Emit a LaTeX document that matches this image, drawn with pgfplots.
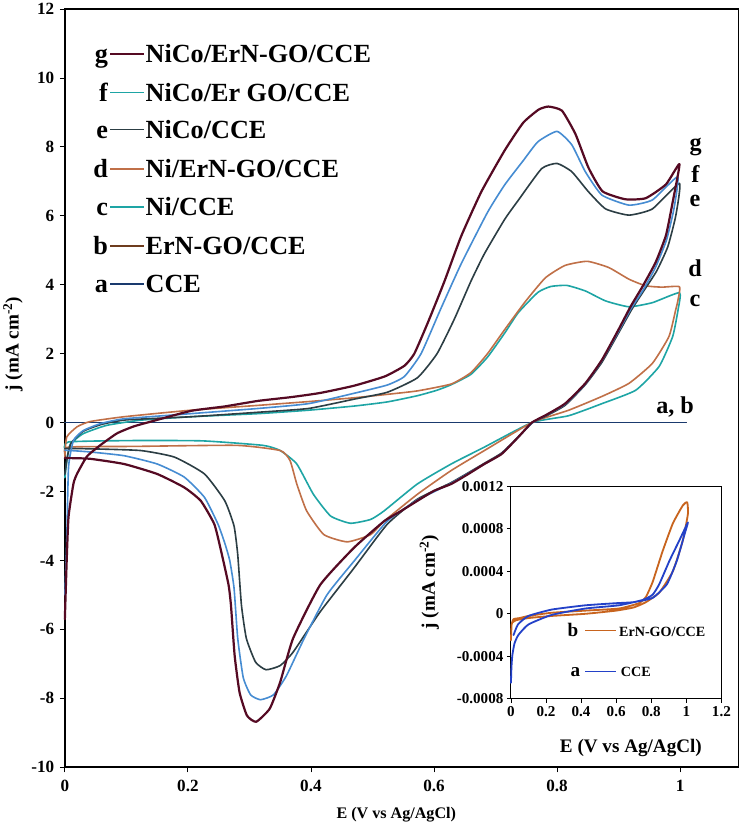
\documentclass[border=0pt]{standalone}
\usepackage{fontspec}
\setmainfont{Liberation Serif}
\usepackage{pgfplots}
\pgfplotsset{compat=1.18}

\definecolor{cg}{RGB}{85,10,35}
\definecolor{cf}{RGB}{70,140,210}
\definecolor{ce}{RGB}{44,62,68}
\definecolor{cd}{RGB}{192,112,72}
\definecolor{cc}{RGB}{30,165,165}
\definecolor{ca}{RGB}{26,58,110}
\definecolor{cb}{RGB}{110,60,30}
\definecolor{ib}{RGB}{200,100,30}
\definecolor{ia}{RGB}{35,65,200}

\begin{document}
\begin{tikzpicture}
\begin{axis}[
  name=main,
  scale only axis, width=669pt, height=753pt,
  xmin=0, xmax=1.095, ymin=-10, ymax=12,
  xtick={0,0.2,0.4,0.6,0.8,1}, ytick={-10,-8,...,12},
  xticklabels={\textbf{0},\textbf{0.2},\textbf{0.4},\textbf{0.6},\textbf{0.8},\textbf{1}},
  yticklabels={\textbf{-10},\textbf{-8},\textbf{-6},\textbf{-4},\textbf{-2},\textbf{0},\textbf{2},\textbf{4},\textbf{6},\textbf{8},\textbf{10},\textbf{12}},
  xtick pos=lower, ytick pos=left,
  tick align=outside, major tick length=5pt,
  tick style={line width=0.8pt, black},
  axis line style={line width=1.6pt},
  clip=false,
  tick label style={font=\fontsize{17}{19}\selectfont\bfseries},
  xticklabel style={yshift=-4pt},
  yticklabel style={xshift=-2pt},
  xlabel={E (V vs Ag/AgCl)},
  ylabel={j (mA cm\textsuperscript{-2})},
  xlabel style={font=\fontsize{16}{19}\selectfont\bfseries, at={(axis description cs:0.492,-0.062)}, anchor=center},
  ylabel style={font=\fontsize{19}{22}\selectfont\bfseries, at={(axis description cs:-0.077,0.558)}, anchor=center},
  every axis plot/.append style={line join=round, line cap=round},
]
% a, b (flat at zero)
\addplot[cb, line width=1.4pt] coordinates {(0,0) (1.01,0)};
\addplot[ca, line width=1.4pt] coordinates {(0,0) (1.01,0)};
% c  Ni/CCE
\addplot[cc, line width=1.6pt, smooth, tension=0.3] coordinates {
(0,-1.6) (0.004,-1.0) (0.009,-0.62) (0.03,-0.32) (0.068,-0.08) (0.123,0.07) (0.205,0.17)
(0.314,0.26) (0.396,0.36) (0.47,0.48) (0.524,0.6) (0.573,0.78) (0.605,0.94) (0.628,1.1)
(0.66,1.4) (0.687,1.9) (0.715,2.6) (0.737,3.19) (0.769,3.78) (0.79,3.95) (0.816,3.98)
(0.846,3.82) (0.879,3.53) (0.917,3.36) (0.955,3.48) (0.999,3.77)
(0.997,3.3) (0.988,2.5) (0.966,1.63) (0.928,0.94) (0.873,0.55) (0.819,0.2) (0.759,0.0)
(0.682,-0.71) (0.628,-1.2) (0.573,-1.78) (0.519,-2.56) (0.497,-2.81) (0.464,-2.92)
(0.432,-2.71) (0.404,-2.08) (0.377,-1.2) (0.35,-0.81) (0.322,-0.66) (0.224,-0.53)
(0.115,-0.52) (0.006,-0.56) (0,-0.8)};
% d  Ni/ErN-GO/CCE
\addplot[cd, line width=1.6pt, smooth, tension=0.3] coordinates {
(0,-1.0) (0.003,-0.42) (0.02,-0.12) (0.041,0.03) (0.096,0.17) (0.205,0.36) (0.314,0.5)
(0.396,0.61) (0.47,0.72) (0.524,0.82) (0.573,0.92) (0.628,1.12) (0.66,1.45) (0.687,2.0)
(0.715,2.7) (0.748,3.5) (0.781,4.2) (0.813,4.56) (0.849,4.68) (0.884,4.5) (0.917,4.16)
(0.944,3.97) (0.97,3.93) (0.999,3.94)
(0.996,3.5) (0.993,3.28) (0.982,2.5) (0.955,1.72) (0.917,1.14) (0.873,0.76) (0.819,0.36)
(0.759,0.0) (0.682,-0.81) (0.628,-1.39) (0.573,-2.08) (0.519,-2.86) (0.497,-3.25)
(0.459,-3.46) (0.421,-3.25) (0.393,-2.56) (0.377,-1.78) (0.366,-1.1) (0.35,-0.81)
(0.279,-0.66) (0.115,-0.69) (0.006,-0.71) (0,-0.9)};
% e  NiCo/CCE
\addplot[ce, line width=1.6pt, smooth, tension=0.3] coordinates {
(0,-1.5) (0.004,-1.0) (0.01,-0.6) (0.03,-0.25) (0.06,-0.05) (0.1,0.08) (0.205,0.17)
(0.314,0.3) (0.396,0.41) (0.47,0.68) (0.524,0.88) (0.573,1.3) (0.605,2.0) (0.633,3.0)
(0.66,4.1) (0.682,4.9) (0.715,5.9) (0.737,6.45) (0.775,7.37) (0.8,7.52) (0.824,7.28)
(0.851,6.7) (0.879,6.2) (0.917,6.02) (0.955,6.2) (0.999,6.94)
(0.993,6.0) (0.98,5.1) (0.962,4.4) (0.942,3.85) (0.922,3.3) (0.9,2.6) (0.873,1.75)
(0.846,1.1) (0.813,0.5) (0.781,0.18) (0.76,0) (0.737,-0.42) (0.71,-0.88) (0.682,-1.18)
(0.628,-1.74) (0.573,-2.22) (0.524,-2.95) (0.47,-4.22) (0.415,-5.49) (0.371,-6.66)
(0.35,-7.05) (0.327,-7.17) (0.31,-6.95) (0.295,-6.26) (0.287,-5.29) (0.281,-3.83)
(0.275,-3.0) (0.26,-2.27) (0.227,-1.49) (0.178,-1.0) (0.123,-0.81) (0.041,-0.76)
(0.005,-0.75) (0,-0.75)};
% f  NiCo/ErGO/CCE
\addplot[cf, line width=1.6pt, smooth, tension=0.3] coordinates {
(0,-5.0) (0.003,-3.5) (0.006,-1.29) (0.014,-0.52) (0.03,-0.23) (0.058,-0.03) (0.096,0.11)
(0.205,0.26) (0.314,0.41) (0.396,0.55) (0.47,0.85) (0.524,1.09) (0.552,1.34) (0.579,2.0)
(0.611,3.3) (0.644,4.6) (0.687,6.1) (0.715,6.9) (0.745,7.6) (0.769,8.15) (0.8,8.45)
(0.824,8.06) (0.846,7.28) (0.873,6.6) (0.917,6.31) (0.955,6.46) (0.996,7.13)
(0.99,6.2) (0.978,5.3) (0.96,4.5) (0.94,3.85) (0.92,3.3) (0.9,2.65) (0.873,1.8)
(0.846,1.12) (0.813,0.53) (0.781,0.2) (0.76,0) (0.737,-0.42) (0.71,-0.9) (0.682,-1.2)
(0.628,-1.76) (0.573,-2.25) (0.524,-2.86) (0.47,-4.02) (0.426,-5.0) (0.388,-6.3)
(0.36,-7.35) (0.339,-7.9) (0.318,-8.04) (0.302,-7.9) (0.29,-7.4) (0.281,-6.26)
(0.275,-4.8) (0.268,-4.0) (0.26,-3.5) (0.249,-2.95) (0.227,-2.17) (0.194,-1.58)
(0.15,-1.2) (0.096,-0.96) (0.04,-0.85) (0.009,-0.81) (0,-0.8)};
% g  NiCo/ErN-GO/CCE
\addplot[cg, line width=2.2pt, smooth, tension=0.3] coordinates {
(0,-5.7) (0.003,-4.0) (0.006,-2.73) (0.014,-1.77) (0.02,-1.48) (0.036,-0.98) (0.058,-0.65)
(0.085,-0.31) (0.112,-0.11) (0.14,0.03) (0.205,0.34) (0.26,0.47) (0.314,0.63) (0.368,0.74)
(0.415,0.86) (0.47,1.07) (0.52,1.34) (0.552,1.65) (0.568,2.0) (0.59,2.9) (0.617,4.1)
(0.644,5.4) (0.677,6.7) (0.715,7.9) (0.745,8.7) (0.77,9.08) (0.786,9.17) (0.808,9.05)
(0.83,8.37) (0.851,7.4) (0.874,6.71) (0.911,6.48) (0.944,6.51) (0.977,6.91) (0.999,7.5)
(0.988,6.4) (0.977,5.43) (0.96,4.64) (0.939,3.95) (0.92,3.38) (0.9,2.7) (0.873,1.82)
(0.846,1.14) (0.813,0.55) (0.781,0.21) (0.759,0) (0.737,-0.42) (0.71,-0.91) (0.682,-1.2)
(0.655,-1.5) (0.628,-1.78) (0.6,-1.98) (0.573,-2.27) (0.546,-2.57) (0.519,-2.86)
(0.47,-3.63) (0.415,-4.71) (0.371,-6.26) (0.35,-7.53) (0.333,-8.3) (0.311,-8.68)
(0.296,-8.5) (0.284,-7.83) (0.276,-6.76) (0.27,-5.3) (0.266,-4.7) (0.254,-3.73)
(0.243,-2.95) (0.221,-2.27) (0.194,-1.88) (0.15,-1.49) (0.096,-1.2) (0.041,-1.05)
(0.009,-1.03) (0,-1.03)};

% legend
\begin{scope}[every node/.style={inner sep=0pt, font=\fontsize{26}{30}\selectfont\bfseries}]
\node[anchor=base east] at (axis cs:0.0704,10.44) {g};
\node[anchor=base east] at (axis cs:0.0704,9.32) {f};
\node[anchor=base east] at (axis cs:0.0704,8.25) {e};
\node[anchor=base east] at (axis cs:0.0704,7.11) {d};
\node[anchor=base east] at (axis cs:0.0704,6.01) {c};
\node[anchor=base east] at (axis cs:0.0704,4.87) {b};
\node[anchor=base east] at (axis cs:0.0704,3.77) {a};
\node[anchor=base west] at (axis cs:0.131,10.44) {NiCo/ErN-GO/CCE};
\node[anchor=base west] at (axis cs:0.131,9.32) {NiCo/Er GO/CCE};
\node[anchor=base west] at (axis cs:0.131,8.25) {NiCo/CCE};
\node[anchor=base west] at (axis cs:0.131,7.11) {Ni/ErN-GO/CCE};
\node[anchor=base west] at (axis cs:0.131,6.01) {Ni/CCE};
\node[anchor=base west] at (axis cs:0.131,4.87) {ErN-GO/CCE};
\node[anchor=base west] at (axis cs:0.131,3.77) {CCE};
\end{scope}
\begin{scope}[every node/.style={inner sep=0pt, font=\fontsize{24}{26}\selectfont\bfseries}]
\node[anchor=base west] at (axis cs:1.015,7.90) {g};
\node[anchor=base west] at (axis cs:1.018,6.98) {f};
\node[anchor=base west] at (axis cs:1.015,6.28) {e};
\node[anchor=base west] at (axis cs:1.013,4.24) {d};
\node[anchor=base west] at (axis cs:1.015,3.38) {c};
\node[anchor=base west] at (axis cs:0.961,0.26) {a, b};
\end{scope}
\draw[cg, line width=1.4pt] (axis cs:0.0736,10.69) -- (axis cs:0.1288,10.69);
\draw[cc, line width=1.4pt] (axis cs:0.0736,9.57) -- (axis cs:0.1288,9.57);
\draw[ce, line width=1.4pt] (axis cs:0.0736,8.50) -- (axis cs:0.1288,8.50);
\draw[cd, line width=1.4pt] (axis cs:0.0736,7.36) -- (axis cs:0.1288,7.36);
\draw[cc, line width=1.4pt] (axis cs:0.0736,6.26) -- (axis cs:0.1288,6.26);
\draw[cb, line width=1.4pt] (axis cs:0.0736,5.12) -- (axis cs:0.1288,5.12);
\draw[ca, line width=1.4pt] (axis cs:0.0736,4.02) -- (axis cs:0.1288,4.02);
\end{axis}

\begin{axis}[
  at={(443pt,68pt)}, anchor=south west,
  scale only axis, width=209pt, height=211pt,
  xmin=0, xmax=1.2, ymin=-0.0008, ymax=0.0012,
  xtick={0,0.2,0.4,0.6,0.8,1,1.2},
  xticklabels={\textbf{0},\textbf{0.2},\textbf{0.4},\textbf{0.6},\textbf{0.8},\textbf{1},\textbf{1.2}},
  ytick={-0.0008,-0.0004,0,0.0004,0.0008,0.0012},
  yticklabels={\textbf{-0.0008},\textbf{-0.0004},\textbf{0},\textbf{0.0004},\textbf{0.0008},\textbf{0.0012}},
  scaled y ticks=false,
  xtick pos=lower, ytick pos=left,
  tick align=outside, major tick length=4pt,
  tick style={line width=0.7pt, black},
  axis line style={line width=1.1pt},
  axis background/.style={fill=white},
  clip=false,
  tick label style={font=\fontsize{15}{17}\selectfont\bfseries},
  xlabel={E (V vs Ag/AgCl)},
  ylabel={j (mA cm\textsuperscript{-2})},
  label style={font=\fontsize{19}{22}\selectfont\bfseries},
  xlabel style={at={(axis description cs:0.57,-0.231)}, anchor=center},
  ylabel style={at={(axis description cs:-0.388,0.55)}, anchor=center},
  every axis plot/.append style={line join=round, line cap=round},
]
\addplot[ib, line width=1.8pt, smooth, tension=0.3] coordinates {
(0,-0.00025) (0.004,-0.0001) (0.015,-0.00005) (0.05,-0.00004) (0.1,-0.00002) (0.233,0.00001)
(0.425,0.00003) (0.616,0.00005) (0.73,0.0001) (0.77,0.00016) (0.808,0.0003) (0.865,0.00059)
(0.923,0.00085) (0.98,0.00102) (1.005,0.00105) (1.009,0.00094) (0.98,0.00069) (0.923,0.0004)
(0.846,0.0002) (0.77,0.00011) (0.7,0.00006) (0.6,0.00003) (0.425,0.0) (0.233,-0.00002)
(0.1,-0.00004) (0.03,-0.00006) (0.01,-0.00008)};
\addplot[ia, line width=1.8pt, smooth, tension=0.3] coordinates {
(0,-0.00065) (0.003,-0.0005) (0.008,-0.00039) (0.02,-0.00028) (0.042,-0.0002) (0.1,-0.0001)
(0.233,-0.00001) (0.425,0.00005) (0.616,0.00008) (0.75,0.00013) (0.808,0.00018)
(0.846,0.00028) (0.904,0.0005) (0.96,0.00069) (1.009,0.00086) (0.99,0.00075) (0.946,0.0005)
(0.89,0.00028) (0.808,0.00015) (0.7,0.00011) (0.6,0.0001) (0.425,0.00008) (0.233,0.00004)
(0.1,-0.00002) (0.04,-0.0001) (0.015,-0.0002)};
\node[anchor=base east, inner sep=0pt, font=\fontsize{19}{22}\selectfont\bfseries] at (axis cs:0.385,-0.000212) {b};
\node[anchor=base east, inner sep=0pt, font=\fontsize{19}{22}\selectfont\bfseries] at (axis cs:0.396,-0.000591) {a};
\node[anchor=base west, inner sep=0pt, font=\fontsize{14}{16}\selectfont\bfseries] at (axis cs:0.616,-0.000212) {ErN-GO/CCE};
\node[anchor=base west, inner sep=0pt, font=\fontsize{14}{16}\selectfont\bfseries] at (axis cs:0.626,-0.000591) {CCE};
\draw[ib, line width=1.4pt] (axis cs:0.425,-0.000158) -- (axis cs:0.597,-0.000158);
\draw[ia, line width=1.4pt] (axis cs:0.425,-0.000544) -- (axis cs:0.597,-0.000544);
\end{axis}
\end{tikzpicture}
\end{document}
